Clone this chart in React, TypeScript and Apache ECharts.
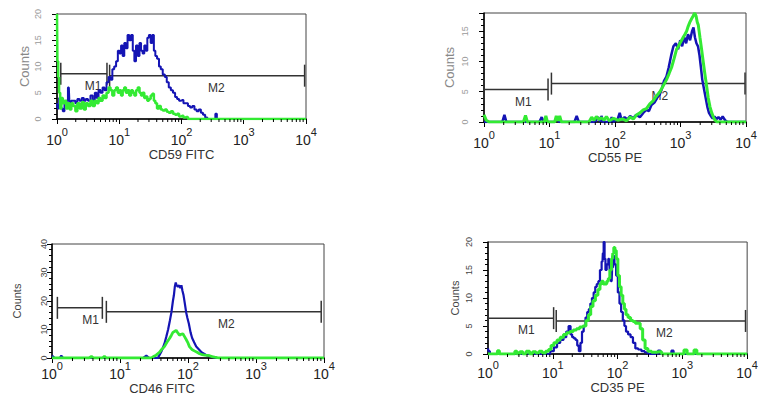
import React, { useEffect, useRef } from 'react';
import * as echarts from 'echarts';

// ---------- data ----------
const decadeTicks = [1, 10, 100, 1000, 10000];
const minorDecadeTicks = [
  2, 3, 4, 5, 6, 7, 8, 9,
  20, 30, 40, 50, 60, 70, 80, 90,
  200, 300, 400, 500, 600, 700, 800, 900,
  2000, 3000, 4000, 5000, 6000, 7000, 8000, 9000,
];
const panelTitles = ['CD59 FITC', 'CD55 PE', 'CD46 FITC', 'CD35 PE'];
const countAxisName = 'Counts';
const countMax = [20, 18, 40, 20];
const countStep = [5, 5, 10, 5];

type Pt = [number, number];

const cd59Blue: Pt[] = [
  [1.0, 3], [1.05, 2], [1.12, 4], [1.2, 2], [1.28, 1.5], [1.36, 3], [1.45, 3.5], [1.55, 6], [1.62, 3],
  [1.75, 3.5], [1.9, 3.5], [2.05, 3], [2.2, 3.8], [2.4, 3.5], [2.6, 4], [2.8, 3.5], [3.0, 3.8], [3.3, 3.5],
  [3.6, 4.5], [3.9, 3.5], [4.2, 5], [4.5, 4], [4.8, 5.5], [5.2, 5], [5.6, 6], [6.0, 5.5], [6.5, 7], [7.0, 8],
  [7.5, 7.5], [8.0, 9.5], [8.6, 10], [9.2, 11], [9.8, 13], [10.4, 12.5], [11, 14], [11.7, 12], [12.4, 14.5],
  [13.2, 13.5], [14, 16], [15, 15], [16, 16], [17, 13], [18, 11], [19.2, 14], [20.5, 12], [21.8, 14.5],
  [23, 13], [24.5, 12.5], [26, 14], [27.5, 13], [29, 15.5], [31, 16], [33, 14.5], [35, 16], [37, 13],
  [39, 12], [42, 11.5], [45, 10], [48, 9.5], [52, 8.5], [56, 8], [60, 7], [65, 6], [70, 5.5], [76, 5],
  [82, 4.2], [88, 3.8], [95, 3.5], [103, 3.6], [112, 3], [122, 3], [132, 2.5], [143, 2.2], [155, 2.5],
  [168, 1.8], [182, 1.5], [197, 1.8], [213, 1.2], [230, 0.8], [250, 0.3], [270, 0], [340, 0], [360, 1],
  [380, 0], [10000, 0],
];
const cd59Green: Pt[] = [
  [1.0, 20], [1.03, 11], [1.06, 8], [1.1, 5], [1.15, 2], [1.2, 4], [1.28, 3], [1.36, 3.5], [1.45, 2],
  [1.55, 3], [1.65, 1.8], [1.75, 3], [1.9, 2.5], [2.05, 1.5], [2.2, 3], [2.4, 2], [2.6, 3.2], [2.8, 1.8],
  [3.0, 3], [3.3, 2.5], [3.6, 3.5], [3.9, 2.5], [4.2, 3.5], [4.5, 3], [4.8, 4], [5.2, 3.5], [5.6, 4.5],
  [6.0, 4], [6.5, 5], [7.0, 6], [7.5, 5.5], [8.0, 4.5], [8.6, 5.5], [9.2, 6], [9.8, 5], [10.4, 5.5],
  [11, 4.5], [11.7, 5.5], [12.4, 6], [13.2, 5], [14, 5.5], [15, 4.5], [16, 5.5], [17, 5], [18, 4.5],
  [19.2, 5.5], [20.5, 6], [21.8, 5], [23, 4.5], [24.5, 5], [26, 4], [27.5, 4.3], [29, 3.5], [31, 3.8],
  [33, 4.5], [35, 4.8], [37, 3.5], [39, 3], [42, 2], [45, 2.5], [48, 1.8], [52, 1.6], [56, 1.8], [60, 1.4],
  [65, 1.2], [70, 1.5], [76, 1], [82, 0.8], [88, 1], [95, 0.5], [103, 0.6], [112, 0.3], [122, 0.4],
  [132, 0], [10000, 0],
];

const cd55Blue: Pt[] = [
  [1, 0], [1.9, 0], [2.05, 1.2], [2.2, 0], [7, 0], [7.6, 0.8], [8.2, 0], [12, 0], [13, 0.8], [14, 0],
  [24, 0], [26, 1], [28, 0], [50, 0], [55, 0.8], [60, 0], [62, 1], [66, 0], [85, 0], [89, 0.8], [93, 0],
  [110, 0.5], [118, 1.5], [126, 0.3], [140, 0.8], [155, 0.4], [170, 1], [190, 0.6], [210, 1.2], [240, 0.8],
  [270, 1.5], [300, 2], [330, 1.8], [360, 2.8], [400, 3.2], [440, 4], [480, 4.5], [520, 5.5], [560, 6.8],
  [610, 7.5], [660, 9], [720, 11], [780, 12.5], [850, 13], [920, 12], [990, 13.5], [1060, 12.5],
  [1140, 14], [1220, 13], [1300, 14.5], [1400, 13.5], [1500, 15], [1580, 15.6], [1660, 14], [1750, 13],
  [1850, 12.5], [1950, 11], [2050, 9], [2150, 7], [2280, 5.5], [2420, 4], [2570, 2.5], [2720, 1.5],
  [2900, 1], [3100, 0.6], [3300, 0.9], [3550, 0.5], [3800, 0.8], [4100, 0.4], [4400, 0.9], [4800, 0.3],
  [5200, 0], [10000, 0],
];
const cd55Green: Pt[] = [
  [1, 1.2], [1.08, 0.3], [1.2, 0], [4.0, 0], [4.3, 1.1], [4.6, 0], [8.3, 0], [8.8, 1], [9.3, 0], [12, 0],
  [12.7, 1], [13.5, 0.2], [14.3, 1], [15.2, 0], [40, 0], [44, 0.8], [48, 0.3], [52, 0.9], [57, 0.4],
  [62, 0.7], [68, 0.3], [74, 0.9], [82, 0.2], [95, 0.6], [110, 0.3], [130, 0.5], [150, 0.2], [170, 0.8],
  [190, 0.5], [215, 1.2], [240, 1.5], [270, 2], [302, 2.2], [340, 3], [382, 3.5], [430, 4.3], [485, 5],
  [545, 6], [612, 7], [670, 8], [730, 9], [800, 10.5], [870, 12], [930, 12.5], [980, 13], [1040, 13.5],
  [1100, 14], [1170, 14.5], [1240, 15], [1310, 15.8], [1390, 16.5], [1470, 17], [1560, 17.5], [1650, 18],
  [1730, 17.5], [1800, 16.5], [1870, 16], [1980, 14], [2100, 12], [2220, 10], [2350, 8], [2500, 6],
  [2650, 4], [2820, 2.5], [3000, 1.5], [3180, 0.8], [3370, 0.3], [3600, 0], [10000, 0],
];

const cd46Blue: Pt[] = [
  [1, 0.8], [1.1, 0], [1.3, 0], [1.37, 0.8], [1.45, 0], [22, 0], [24.4, 0.8], [27, 0], [36, 0], [38, 1],
  [41, 2.5], [45, 5], [48, 7.5], [51, 10], [54, 13], [57, 16], [60, 20], [62, 22], [64, 25], [66, 26.5],
  [68, 25.5], [71, 25], [74, 25.5], [77, 24.5], [80, 25.5], [83, 23.5], [86, 22], [90, 19], [94, 16],
  [98, 14], [103, 12], [109, 9], [115, 7], [123, 5.5], [132, 4], [145, 3], [158, 2], [172, 1.5], [186, 1],
  [203, 0.7], [220, 0.5], [240, 0.2], [260, 0], [10000, 0],
];
const cd46Green: Pt[] = [
  [1, 0], [3.5, 0], [3.8, 0.6], [4.1, 0], [5.5, 0], [5.9, 0.6], [6.3, 0], [29, 0], [31, 0.5], [34, 1],
  [38, 2], [41, 3], [45, 4], [49, 5.5], [54, 7], [57, 8], [60, 9], [63, 9.3], [67, 9.7], [71, 8.8], [75, 8],
  [79, 8.3], [84, 8.5], [89, 7.5], [94, 6.5], [99, 5.5], [105, 4], [114, 3], [124, 2.5], [136, 2],
  [148, 1.5], [162, 1.2], [177, 1], [192, 0.9], [208, 0.8], [226, 0.5], [246, 0.3], [270, 0.1], [293, 0],
  [10000, 0],
];

const cd35Blue: Pt[] = [
  [1, 1], [1.04, 0.5], [1.1, 0], [8.5, 0], [9.8, 0.5], [11, 1.2], [12.3, 2], [13.8, 2.5], [15.5, 3],
  [16.8, 4], [18.3, 5], [19.3, 3.5], [20.5, 3], [21.8, 2.8], [23.2, 2.5], [24.5, 1.5], [26, 0.5], [27.5, 2],
  [29, 4], [31, 5], [33, 6.5], [35, 7.5], [37, 8], [39, 9], [41.5, 10], [44, 11], [46.5, 12], [49, 12.5],
  [52, 13], [55, 15], [58.5, 16.5], [60, 18], [62, 20], [64, 17], [66, 15], [70, 16], [74, 17], [77, 15],
  [81, 13], [84, 15.5], [87, 17.5], [92, 16], [98, 14], [104, 11], [110, 9], [117, 7.5], [124, 6],
  [131, 5], [139, 4], [152, 3.5], [166, 3], [180, 2], [196, 1], [220, 0.8], [248, 0.5], [277, 0.3],
  [310, 0], [400, 0], [440, 0.6], [480, 0], [650, 0], [705, 0.6], [760, 0], [10000, 0],
];
const cd35Green: Pt[] = [
  [1, 0], [1.35, 0], [1.45, 0.6], [1.55, 0], [2.5, 0], [2.7, 0.5], [2.9, 0], [3.3, 0.4], [3.6, 0],
  [4.2, 0.5], [4.6, 0], [5.2, 0.4], [5.8, 0.2], [6.5, 0.5], [7.3, 0.2], [8.2, 0.5], [9, 0.8], [9.8, 1.5],
  [11, 2], [12.3, 2.5], [13.8, 3], [15.5, 3.5], [17.3, 3.8], [19.5, 4], [22, 4.3], [24.5, 4.5], [27.5, 4.8],
  [31, 5], [34, 6], [37, 7], [40, 8.5], [43.5, 9.5], [47.5, 10.5], [52, 11.5], [55, 12.5], [58.5, 13],
  [62, 12.5], [66, 12.5], [70, 13], [74, 13.5], [78, 15], [83, 17], [86, 18], [89, 19], [93, 18.5],
  [98, 17], [104, 14], [110, 12], [117, 10.5], [124, 9], [131, 8], [139, 7], [152, 6.5], [166, 6],
  [180, 5.8], [196, 5.5], [214, 5.5], [233, 4.5], [255, 2.5], [277, 1], [311, 0.5], [360, 0.3], [440, 0.4],
  [520, 0], [1000, 0], [1120, 0.7], [1250, 0], [1450, 0], [1580, 0.7], [1770, 0], [10000, 0],
];

// gates: [name, from, to, level, labelAt]
type Gate = [string, number, number, number, number];
const cd59Gates: Gate[] = [['M1', 1.15, 6.35, 8.6, 3.8], ['M2', 7.0, 9500, 8.25, 363]];
const cd55Gates: Gate[] = [['M1', 1, 9.5, 5.35, 4.0], ['M2', 10.7, 9660, 6.34, 485]];
const cd46Gates: Gate[] = [['M1', 1.2, 5.5, 17.6, 3.7], ['M2', 6.3, 9100, 16.2, 365]];
const cd35Gates: Gate[] = [['M1', 1, 10.3, 6.4, 3.9], ['M2', 11.3, 9440, 5.9, 525]];

// ---------- layout / style ----------
const FONT = '"Liberation Sans", Arial, Helvetica, sans-serif';
const BLUE = '#1414b4';
const GREEN = '#33ea33';

const panels = [
  { blue: cd59Blue, green: cd59Green, gates: cd59Gates, step: 'middle', blueW: 2, greenW: 2.5,
    grid: { left: 57, top: 14, width: 249, height: 105 },
    faint: true, yMargin: 15, yNameGap: 26, xMargin: 7, xNameGap: 26, namePad: [0, 0, 0, 0], yNameSize: 13 },
  { blue: cd55Blue, green: cd55Green, gates: cd55Gates, step: false, blueW: 2.5, greenW: 3,
    grid: { left: 484, top: 13, width: 262, height: 109 },
    faint: true, yMargin: 15, yNameGap: 28, xMargin: 7, xNameGap: 25, namePad: [0, 0, 0, 0], yNameSize: 13 },
  { blue: cd46Blue, green: cd46Green, gates: cd46Gates, step: false, blueW: 2.2, greenW: 2.8,
    grid: { left: 52, top: 244, width: 272, height: 114 },
    faint: false, yMargin: 4, yNameGap: 30, xMargin: 2, xNameGap: 24, namePad: [0, 52, 0, 0], yNameSize: 11 },
  { blue: cd35Blue, green: cd35Green, gates: cd35Gates, step: 'middle', blueW: 2.2, greenW: 3,
    grid: { left: 488, top: 242, width: 265, height: 112 },
    faint: false, yMargin: 15, yNameGap: 28, xMargin: 5, xNameGap: 25, namePad: [0, 0, 0, 0], yNameSize: 11 },
];

function buildOption() {
  const grids: any[] = [];
  const xAxes: any[] = [];
  const yAxes: any[] = [];
  const series: any[] = [];

  panels.forEach((p, i) => {
    grids.push({ ...p.grid, show: true, borderColor: '#444', borderWidth: 1, containLabel: false });

    xAxes.push({
      type: 'log', logBase: 10, gridIndex: i, min: decadeTicks[0], max: decadeTicks[decadeTicks.length - 1],
      splitNumber: 4,
      name: panelTitles[i], nameLocation: 'middle', nameGap: p.xNameGap,
      nameTextStyle: { fontSize: 13, color: '#333', fontFamily: FONT, padding: p.namePad },
      axisLine: { show: true, lineStyle: { color: '#000', width: 1.5 } },
      axisTick: { show: true, length: 5, lineStyle: { color: '#000', width: 1 } },
      minorTick: { show: false },
      splitLine: { show: false },
      axisLabel: {
        margin: p.xMargin,
        formatter: (v: number) => `{b|10}{s|${Math.round(Math.log10(v))}}`,
        rich: {
          b: { fontSize: 14, color: '#222', fontFamily: FONT, lineHeight: 21, verticalAlign: 'bottom' },
          s: { fontSize: 11, color: '#222', fontFamily: FONT, lineHeight: 10, verticalAlign: 'top' },
        },
      },
    });

    const labelColor = p.faint ? '#9a9a9a' : '#444';
    yAxes.push({
      type: 'value', gridIndex: i, min: 0, max: countMax[i], interval: countStep[i],
      name: countAxisName, nameLocation: 'middle', nameGap: p.yNameGap, nameRotate: 90,
      nameTextStyle: { fontSize: p.yNameSize, color: p.faint ? '#888' : '#444', fontFamily: FONT },
      axisLine: { show: true, lineStyle: { color: '#000', width: 1.5 } },
      axisTick: { show: true, length: 5, lineStyle: { color: '#000', width: 1 } },
      minorTick: { show: true, splitNumber: 5, length: 3, lineStyle: { color: '#000', width: 1 } },
      splitLine: { show: false },
      axisLabel: {
        rotate: 90, fontSize: 9, color: labelColor, fontFamily: FONT, margin: p.yMargin,
        showMaxLabel: countMax[i] % countStep[i] === 0,
      },
    });

    const gates = p.gates;
    series.push({
      type: 'custom', xAxisIndex: i, yAxisIndex: i, silent: true, z: 1,
      data: gates.map((g) => [g[1], g[2], g[3], g[4]]),
      encode: { x: [0, 1, 3], y: 2 },
      renderItem: (params: any, api: any) => {
        const name = gates[params.dataIndex][0];
        const a = api.coord([api.value(0), api.value(2)]);
        const b = api.coord([api.value(1), api.value(2)]);
        const l = api.coord([api.value(3), api.value(2)]);
        const h = 11;
        const st = { stroke: '#333', lineWidth: 1.5 };
        return {
          type: 'group',
          children: [
            { type: 'line', shape: { x1: a[0], y1: a[1], x2: b[0], y2: b[1] }, style: st },
            { type: 'line', shape: { x1: a[0], y1: a[1] - h, x2: a[0], y2: a[1] + h }, style: st },
            { type: 'line', shape: { x1: b[0], y1: b[1] - h, x2: b[0], y2: b[1] + h }, style: st },
            {
              type: 'text', x: l[0], y: l[1] + 12,
              style: {
                text: name, fill: '#333', fontSize: 12, fontFamily: FONT,
                align: 'center', verticalAlign: 'middle', textAlign: 'center', textVerticalAlign: 'middle',
              },
            },
          ],
        };
      },
    });

    series.push({
      type: 'line', xAxisIndex: i, yAxisIndex: i, data: p.blue, symbol: 'none', showSymbol: false,
      step: p.step, silent: true, z: 2, clip: true,
      lineStyle: { color: BLUE, width: p.blueW },
    });
    series.push({
      type: 'line', xAxisIndex: i, yAxisIndex: i, data: p.green, symbol: 'none', showSymbol: false,
      step: p.step, silent: true, z: 3, clip: true,
      lineStyle: { color: GREEN, width: p.greenW },
    });

    series.push({
      type: 'custom', xAxisIndex: i, yAxisIndex: i, silent: true, z: 4,
      data: minorDecadeTicks.map((v) => [v, 0]),
      encode: { x: 0, y: 1 },
      renderItem: (params: any, api: any) => {
        const c = api.coord([api.value(0), api.value(1)]);
        return {
          type: 'line',
          shape: { x1: c[0], y1: c[1], x2: c[0], y2: c[1] + 3 },
          style: { stroke: '#000', lineWidth: 1 },
        };
      },
    });
  });

  return {
    animation: false,
    backgroundColor: '#fff',
    textStyle: { fontFamily: FONT },
    grid: grids,
    xAxis: xAxes,
    yAxis: yAxes,
    series,
  };
}

export default function App() {
  const ref = useRef<HTMLDivElement>(null);
  useEffect(() => {
    if (!ref.current) return;
    const chart = echarts.init(ref.current, undefined, { renderer: 'svg' });
    chart.setOption(buildOption() as any);
    return () => chart.dispose();
  }, []);
  return (
    <div
      ref={ref}
      style={{ position: 'absolute', left: 0, top: 0, width: 761, height: 403, background: '#fff' }}
    />
  );
}
